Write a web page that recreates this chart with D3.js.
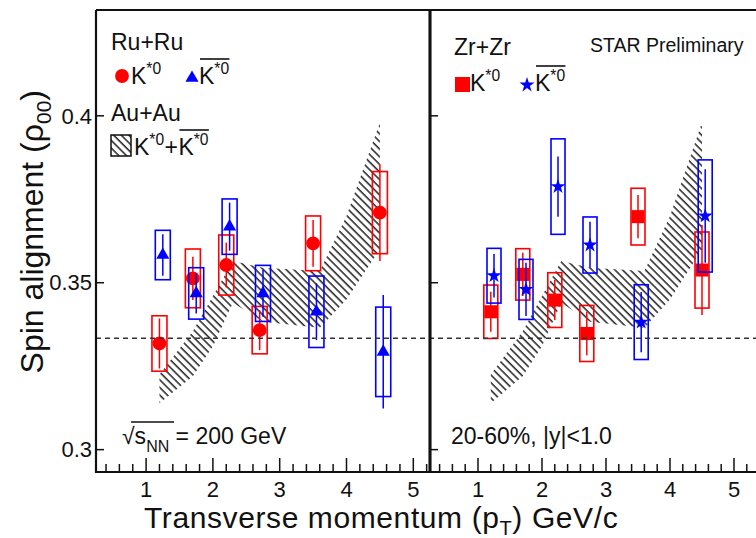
<!DOCTYPE html>
<html>
<head>
<meta charset="utf-8">
<script src="https://cdn.jsdelivr.net/npm/d3@7"></script>
<style>
  body { margin: 0; background: #fff; }
  text { font-family: "Liberation Sans", Arial, sans-serif; fill: #111; }
</style>
</head>
<body>
<script>
// Ru+Ru, K*0 (red circles)
var ptRuK   = [1.2, 1.7, 2.2, 2.7, 3.5, 4.5];
var rhoRuK  = [0.3318, 0.3513, 0.3553, 0.3358, 0.3618, 0.3710];
var statRuK = [0.0075, 0.0065, 0.0067, 0.0060, 0.0070, 0.0145];
var sysRuK  = [0.0083, 0.0088, 0.0090, 0.0071, 0.0082, 0.0123];
// Ru+Ru, anti-K*0 (blue triangles)
var ptRuKb   = [1.25, 1.75, 2.25, 2.75, 3.55, 4.55];
var rhoRuKb  = [0.3583, 0.3468, 0.3668, 0.3468, 0.3413, 0.3293];
var statRuKb = [0.0062, 0.0060, 0.0072, 0.0070, 0.0085, 0.0170];
var sysRuKb  = [0.0074, 0.0077, 0.0083, 0.0084, 0.0107, 0.0134];
// Zr+Zr, K*0 (red squares)
var ptZrK   = [1.2, 1.7, 2.2, 2.7, 3.5, 4.5];
var rhoZrK  = [0.3413, 0.3525, 0.3448, 0.3348, 0.3698, 0.3538];
var statZrK = [0.0060, 0.0065, 0.0060, 0.0065, 0.0065, 0.0135];
var sysZrK  = [0.0080, 0.0077, 0.0082, 0.0084, 0.0085, 0.0114];
// Zr+Zr, anti-K*0 (blue stars)
var ptZrKb   = [1.25, 1.75, 2.25, 2.75, 3.55, 4.55];
var rhoZrKb  = [0.3521, 0.3480, 0.3788, 0.3613, 0.3382, 0.3700];
var statZrKb = [0.0065, 0.0080, 0.0090, 0.0070, 0.0090, 0.0140];
var sysZrKb  = [0.0082, 0.0090, 0.0143, 0.0084, 0.0112, 0.0168];
// Au+Au 200 GeV band (hatched)
var bandPt = [1.2, 1.7, 2.0, 2.3, 2.75, 3.6, 4.0, 4.5];
var bandLo = [0.3139, 0.3220, 0.3310, 0.3440, 0.3383, 0.3365, 0.3450, 0.3600];
var bandHi = [0.3225, 0.3355, 0.3460, 0.3565, 0.3545, 0.3535, 0.3700, 0.3980];

var yTicks = [0.3, 0.35, 0.4];
var xMajor = [1, 2, 3, 4, 5];

var yTop = 10, yBot = 472;
var y = d3.scaleLinear().domain([0.2933, 0.4317]).range([yBot, yTop]);
var xL = d3.scaleLinear().domain([0.25, 5.25]).range([96, 430]);
var xR = d3.scaleLinear().domain([0.25, 5.75]).range([430, 782]);

var svg = d3.select("body").append("svg").attr("width", 756).attr("height", 538);

var pat = svg.append("defs").append("pattern")
  .attr("id", "hatch").attr("patternUnits", "userSpaceOnUse")
  .attr("width", 5.4).attr("height", 5.4)
  .attr("patternTransform", "rotate(-45)");
pat.append("line").attr("x1", 1).attr("y1", 0).attr("x2", 1).attr("y2", 5.4)
  .attr("stroke", "#222").attr("stroke-width", 1.5);

function zip(pt, v, a, b) {
  return pt.map(function(d, i) { return {pt: d, v: v[i], a: a ? a[i] : 0, b: b ? b[i] : 0}; });
}

function drawPanel(x, labels) {
  var g = svg.append("g");
  var band = zip(bandPt, bandLo, bandHi);
  g.append("path").datum(band)
    .attr("d", d3.area().x(function(d) { return x(d.pt); })
      .y0(function(d) { return y(d.v); }).y1(function(d) { return y(d.a); }))
    .attr("fill", "url(#hatch)");

  var xmin = x.domain()[0], xmax = x.domain()[1];
  var minor = d3.range(Math.ceil(xmin * 5), Math.floor(xmax * 5) + 1).map(function(k) { return k / 5; });
  g.selectAll(".minor").data(minor).enter().append("line")
    .attr("x1", function(d) { return x(d); }).attr("x2", function(d) { return x(d); })
    .attr("y1", yBot).attr("y2", function(d) { return Math.abs(d - Math.round(d)) < 1e-6 ? yBot - 14 : yBot - 8; })
    .attr("stroke", "#111").attr("stroke-width", 1.5);
  g.selectAll(".xl").data(xMajor).enter().append("text")
    .attr("x", function(d) { return x(d); }).attr("y", 497)
    .attr("text-anchor", "middle").style("font-size", "22px")
    .text(function(d) { return d; });

  g.selectAll(".yt").data(yTicks).enter().append("line")
    .attr("x1", x.range()[0]).attr("x2", x.range()[0] + 8)
    .attr("y1", function(d) { return y(d); }).attr("y2", function(d) { return y(d); })
    .attr("stroke", "#111").attr("stroke-width", 1.5);
  if (labels) {
    g.selectAll(".yl").data(yTicks).enter().append("text")
      .attr("x", 92).attr("y", function(d) { return y(d); }).attr("dy", "0.35em")
      .attr("text-anchor", "end").style("font-size", "22px")
      .text(function(d) { return d; });
  }
  return g;
}

function drawSeries(g, x, data, color, boxW, marker) {
  g.selectAll(null).data(data).enter().append("rect")
    .attr("x", function(d) { return x(d.pt) - boxW / 2; }).attr("width", boxW)
    .attr("y", function(d) { return y(d.v + d.b); })
    .attr("height", function(d) { return y(d.v - d.b) - y(d.v + d.b); })
    .attr("fill", "none").attr("stroke", color).attr("stroke-width", 1.6);
  g.selectAll(null).data(data).enter().append("line")
    .attr("x1", function(d) { return x(d.pt); }).attr("x2", function(d) { return x(d.pt); })
    .attr("y1", function(d) { return y(d.v - d.a); }).attr("y2", function(d) { return y(d.v + d.a); })
    .attr("stroke", color).attr("stroke-width", 1.5);
  g.selectAll(null).data(data).enter().append("path")
    .attr("transform", function(d) { return "translate(" + x(d.pt) + "," + y(d.v) + ")"; })
    .attr("d", marker).attr("fill", color);
}

var gL = drawPanel(xL, true);
var gR = drawPanel(xR, false);

// dashed line at 1/3
svg.append("line").attr("x1", 96).attr("x2", 756).attr("y1", y(1 / 3)).attr("y2", y(1 / 3))
  .attr("stroke", "#333").attr("stroke-width", 1.5).attr("stroke-dasharray", "5,4");

var circ = d3.symbol().type(d3.symbolCircle).size(150)();
var tri = d3.symbol().type(d3.symbolTriangle).size(75)();
var sq = d3.symbol().type(d3.symbolSquare).size(170)();
var star = d3.symbol().type(d3.symbolStar).size(70)();

drawSeries(gL, xL, zip(ptRuK, rhoRuK, statRuK, sysRuK), "#ff0000", 15, circ);
drawSeries(gL, xL, zip(ptRuKb, rhoRuKb, statRuKb, sysRuKb), "#0000ff", 15, tri);
drawSeries(gR, xR, zip(ptZrK, rhoZrK, statZrK, sysZrK), "#ff0000", 14, sq);
drawSeries(gR, xR, zip(ptZrKb, rhoZrKb, statZrKb, sysZrKb), "#0000ff", 14, star);

// frames
svg.append("path").attr("d", "M96,10 H756 M96,10 V472 H756 M430,10 V472")
  .attr("fill", "none").attr("stroke", "#111").attr("stroke-width", 2.2);
svg.append("line").attr("x1", 430).attr("x2", 430).attr("y1", 10).attr("y2", 472)
  .attr("stroke", "#111").attr("stroke-width", 3);

// legend helpers
function kstar(x, yb, bar, size) {
  var t = svg.append("text").attr("x", x).attr("y", yb).style("font-size", size + "px");
  t.append("tspan").text("K");
  t.append("tspan").attr("dy", -10).style("font-size", (size * 0.68) + "px").text("*0");
  if (bar) {
    var bb = t.node().getBBox();
    svg.append("line").attr("x1", bb.x + 1).attr("x2", bb.x + bb.width)
      .attr("y1", bb.y - 1).attr("y2", bb.y - 1).attr("stroke", "#111").attr("stroke-width", 1.6);
  }
  return t;
}
function label(x, yb, s, size) {
  return svg.append("text").attr("x", x).attr("y", yb).style("font-size", size + "px").text(s);
}

label(111, 50, "Ru+Ru", 23);
svg.append("path").attr("d", circ).attr("transform", "translate(122,76)").attr("fill", "#ff0000");
kstar(131, 84, false, 23);
svg.append("path").attr("d", tri).attr("transform", "translate(192,78)").attr("fill", "#0000ff");
kstar(199, 84, true, 23);

label(111, 121, "Au+Au", 23);
svg.append("rect").attr("x", 111).attr("y", 135).attr("width", 20).attr("height", 21)
  .attr("fill", "url(#hatch)").attr("stroke", "#111").attr("stroke-width", 1.5);
var kk = kstar(134, 155, false, 23);
var kx = kk.node().getBBox();
label(kx.x + kx.width, 155, "+", 23);
kstar(kx.x + kx.width + 14, 155, true, 23);

label(454, 55, "Zr+Zr", 23);
svg.append("rect").attr("x", 455).attr("y", 77).attr("width", 15).attr("height", 15).attr("fill", "#ff0000");
kstar(470, 91, false, 23);
svg.append("path").attr("d", star).attr("transform", "translate(527,85)").attr("fill", "#0000ff");
kstar(535, 91, true, 23);
label(590, 52, "STAR Preliminary", 19.5);

// sqrt(sNN) = 200 GeV
var sq1 = svg.append("text").attr("x", 122).attr("y", 444).style("font-size", "23px");
sq1.append("tspan").text("\u221As");
sq1.append("tspan").attr("dy", 8).style("font-size", "16px").text("NN");
sq1.append("tspan").attr("dy", -8).text(" = 200 GeV");
svg.append("line").attr("x1", 131).attr("x2", 174).attr("y1", 422).attr("y2", 422)
  .attr("stroke", "#111").attr("stroke-width", 1.4);
label(451, 444, "20-60%, |y|<1.0", 23);

// axis titles
var xt = svg.append("text").attr("x", 144).attr("y", 528).style("font-size", "30px")
  .style("letter-spacing", "0.6px");
xt.append("tspan").text("Transverse momentum (p");
xt.append("tspan").attr("dy", 7).style("font-size", "20px").text("T");
xt.append("tspan").attr("dy", -7).text(") GeV/c");

var yt = svg.append("text").attr("transform", "translate(43,90) rotate(-90)")
  .attr("text-anchor", "end").style("font-size", "32px");
yt.append("tspan").text("Spin alignment (\u03C1");
yt.append("tspan").attr("dy", 8).style("font-size", "21px").text("00");
yt.append("tspan").attr("dy", -8).text(")");
</script>
</body>
</html>
